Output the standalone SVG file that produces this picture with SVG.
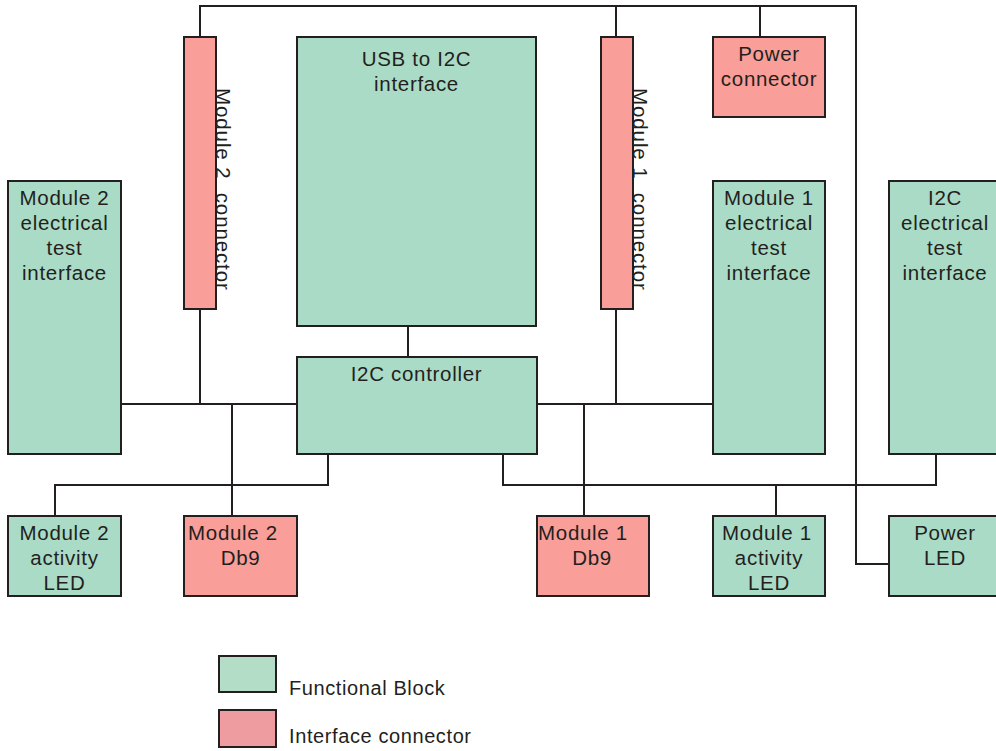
<svg xmlns="http://www.w3.org/2000/svg" width="996" height="751" viewBox="0 0 996 751">
<style>
.fb{fill:#aadbc6;stroke:#231f20;stroke-width:2}
.ic{fill:#f99e98;stroke:#231f20;stroke-width:2}
.t{font-family:"Liberation Sans",Arial,sans-serif;font-size:20.5px;letter-spacing:0.7px;fill:#231f20;text-anchor:middle}
.lg{font-family:"Liberation Sans",Arial,sans-serif;font-size:20px;letter-spacing:0.6px;fill:#231f20}
.w{fill:none;stroke:#231f20;stroke-width:2}
.r{text-anchor:start;white-space:pre;letter-spacing:0.9px}
</style>
<rect width="996" height="751" fill="#ffffff"/>
<g id="connectors">
<path class="w" d="M200 37V6H856V564H889"/>
<path class="w" d="M616 37V6"/>
<path class="w" d="M760 37V6"/>
<path class="w" d="M408 326V357"/>
<path class="w" d="M200 309V404"/>
<path class="w" d="M121 404H297"/>
<path class="w" d="M232 404V516"/>
<path class="w" d="M55 516V485H328V454"/>
<path class="w" d="M537 404H713"/>
<path class="w" d="M616 309V404"/>
<path class="w" d="M584 404V516"/>
<path class="w" d="M503 454V485H936V454"/>
<path class="w" d="M776 485V516"/>
</g>
<g id="module2-connector">
<rect class="ic" x="184" y="37" width="32" height="272"/>
<text class="t r" xml:space="preserve" transform="translate(216,88) rotate(90)">Module 2  connector</text>
</g>
<g id="usb-i2c">
<rect class="fb" x="297" y="37" width="239" height="289"/>
<text class="t" x="416.5" y="66">USB to I2C</text>
<text class="t" x="416.5" y="91">interface</text>
</g>
<g id="module1-connector">
<rect class="ic" x="601" y="37" width="32" height="272"/>
<text class="t r" xml:space="preserve" transform="translate(633,88) rotate(90)">Module 1  connector</text>
</g>
<g id="power-connector">
<rect class="ic" x="713" y="37" width="112" height="80"/>
<text class="t" x="769" y="61">Power</text>
<text class="t" x="769" y="86">connector</text>
</g>
<g id="module2-electrical">
<rect class="fb" x="8" y="181" width="113" height="273"/>
<text class="t" x="64.5" y="205">Module 2</text>
<text class="t" x="64.5" y="230">electrical</text>
<text class="t" x="64.5" y="255">test</text>
<text class="t" x="64.5" y="280">interface</text>
</g>
<g id="module1-electrical">
<rect class="fb" x="713" y="181" width="112" height="273"/>
<text class="t" x="769" y="205">Module 1</text>
<text class="t" x="769" y="230">electrical</text>
<text class="t" x="769" y="255">test</text>
<text class="t" x="769" y="280">interface</text>
</g>
<g id="i2c-electrical">
<rect class="fb" x="889" y="181" width="112" height="273"/>
<text class="t" x="945" y="205">I2C</text>
<text class="t" x="945" y="230">electrical</text>
<text class="t" x="945" y="255">test</text>
<text class="t" x="945" y="280">interface</text>
</g>
<g id="i2c-controller">
<rect class="fb" x="297" y="357" width="240" height="97"/>
<text class="t" x="416.5" y="381">I2C controller</text>
</g>
<g id="module2-activity-led">
<rect class="fb" x="8" y="516" width="113" height="80"/>
<text class="t" x="64.5" y="540">Module 2</text>
<text class="t" x="64.5" y="565">activity</text>
<text class="t" x="64.5" y="590">LED</text>
</g>
<g id="module2-db9">
<rect class="ic" x="184" y="516" width="113" height="80"/>
<text class="t" x="233" y="540">Module 2</text>
<text class="t" x="240.5" y="565">Db9</text>
</g>
<g id="module1-db9">
<rect class="ic" x="537" y="516" width="112" height="80"/>
<text class="t" x="583" y="540">Module 1</text>
<text class="t" x="592" y="565">Db9</text>
</g>
<g id="module1-activity-led">
<rect class="fb" x="713" y="516" width="112" height="80"/>
<text class="t" x="767" y="540">Module 1</text>
<text class="t" x="769" y="565">activity</text>
<text class="t" x="769" y="590">LED</text>
</g>
<g id="power-led">
<rect class="fb" x="889" y="516" width="112" height="80"/>
<text class="t" x="945" y="540">Power</text>
<text class="t" x="945" y="565">LED</text>
</g>
<g id="legend">
<rect x="219" y="656" width="57" height="36" fill="#b4ddc8" stroke="#231f20" stroke-width="2"/>
<text class="lg" x="289" y="695">Functional Block</text>
<rect x="219" y="710" width="57" height="37" fill="#ee9c9f" stroke="#231f20" stroke-width="2"/>
<text class="lg" x="289" y="743">Interface connector</text>
</g>
</svg>
